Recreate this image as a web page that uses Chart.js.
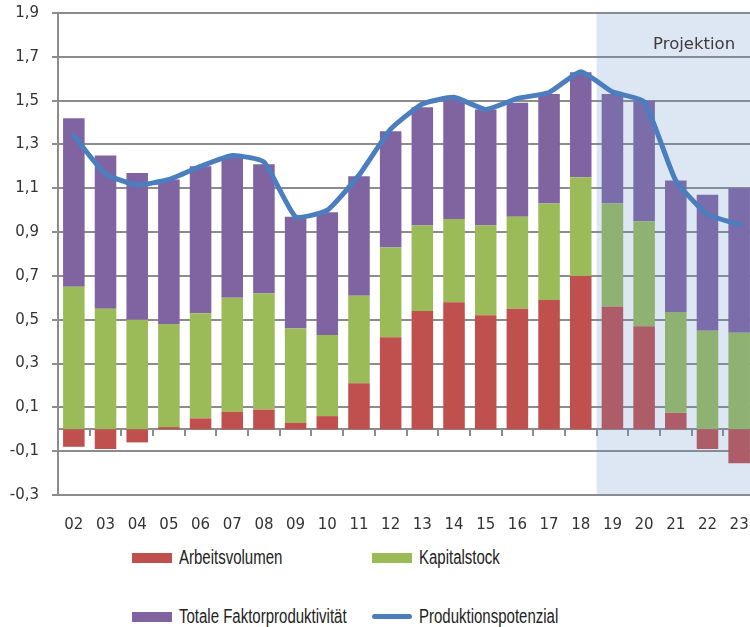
<!DOCTYPE html>
<html>
<head>
<meta charset="utf-8">
<script src="https://cdn.jsdelivr.net/npm/chart.js@4"></script>
<style>
  html, body { margin: 0; padding: 0; background: #fff; overflow: hidden; }
  #wrap { position: absolute; left: 0; top: -9px; width: 755px; height: 550px; }
  .legend { position: absolute; font-family: "Liberation Sans", Arial, sans-serif; font-size: 20px; color: #222; }
  .legend .sw { position: absolute; left: 0; width: 40px; }
  .legend span.t { position: absolute; left: 47px; top: -12px; white-space: nowrap;
                   display: inline-block; transform: scaleX(0.75); transform-origin: left center; }
</style>
</head>
<body>
<div id="wrap"><canvas id="chart"></canvas></div>
<div class="legend" style="left:132px; top:558px;"><div class="sw" style="height:10px; top:-5px; background:#c0504d"></div><span class="t">Arbeitsvolumen</span></div>
<div class="legend" style="left:372px; top:558px;"><div class="sw" style="height:10px; top:-5px; background:#9bbb59"></div><span class="t">Kapitalstock</span></div>
<div class="legend" style="left:132px; top:617px;"><div class="sw" style="height:10px; top:-5px; background:#8064a2"></div><span class="t">Totale Faktorproduktivität</span></div>
<div class="legend" style="left:372px; top:617px;"><div class="sw" style="height:5px; top:-3px; border-radius:3px; background:#4a7ebf"></div><span class="t">Produktionspotenzial</span></div>
<script>
// Jahre (20xx)
const years = ['02', '03', '04', '05', '06', '07', '08', '09', '10', '11', '12',
               '13', '14', '15', '16', '17', '18', '19', '20', '21', '22', '23'];
// Beiträge in Prozentpunkten
const arbeitsvolumen = [-0.08, -0.09, -0.06, 0.01, 0.05, 0.08, 0.09, 0.03, 0.06, 0.21, 0.42,
                        0.54, 0.58, 0.52, 0.55, 0.59, 0.70, 0.56, 0.47, 0.075, -0.09, -0.155];
const kapitalstock = [0.65, 0.55, 0.50, 0.47, 0.48, 0.52, 0.53, 0.43, 0.37, 0.40, 0.41,
                      0.39, 0.38, 0.41, 0.42, 0.44, 0.45, 0.47, 0.48, 0.46, 0.45, 0.44];
const tfp = [0.77, 0.70, 0.67, 0.66, 0.67, 0.64, 0.59, 0.51, 0.56, 0.545, 0.53,
             0.54, 0.55, 0.53, 0.52, 0.50, 0.48, 0.50, 0.55, 0.60, 0.62, 0.66];
const potenzial = [1.34, 1.165, 1.115, 1.14, 1.20, 1.25, 1.22, 0.97, 1.0, 1.16, 1.37,
                   1.485, 1.515, 1.46, 1.51, 1.537, 1.632, 1.54, 1.495, 1.135, 0.98, 0.935];
const yTicks = [-0.3, -0.1, 0.1, 0.3, 0.5, 0.7, 0.9, 1.1, 1.3, 1.5, 1.7, 1.9];
const projStart = '19';

const gridColor = '#8c8c8c';
const tickFont = { family: 'DejaVu Sans', size: 15 };

// hellblaue Fläche für die Projektion, über den Balken, unter der Linie
const projektionPlugin = {
    id: 'projektion',
    beforeDatasetDraw(chart, args) {
        if (args.index !== 3) return;
        const ctx = chart.ctx;
        const area = chart.chartArea;
        const x = chart.scales.x;
        const i = years.indexOf(projStart);
        const left = (x.getPixelForValue(i - 1) + x.getPixelForValue(i)) / 2;
        ctx.save();
        ctx.fillStyle = 'rgba(100, 140, 200, 0.22)';
        ctx.fillRect(left, area.top, area.right - left, area.bottom - area.top);
        ctx.fillStyle = '#3c3c3c';
        ctx.font = '16.5px "DejaVu Sans"';
        ctx.textAlign = 'right';
        ctx.textBaseline = 'middle';
        ctx.fillText('Projektion', x.getPixelForValue(years.length - 1) - 4, area.top + 32);
        ctx.restore();
    }
};

const ctx = document.getElementById('chart').getContext('2d');
new Chart(ctx, {
    data: {
        labels: years,
        datasets: [
            { type: 'bar', label: 'Arbeitsvolumen', data: arbeitsvolumen, backgroundColor: '#c0504d', order: 1 },
            { type: 'bar', label: 'Kapitalstock', data: kapitalstock, backgroundColor: '#9bbb59', order: 1 },
            { type: 'bar', label: 'Totale Faktorproduktivität', data: tfp, backgroundColor: '#8064a2', order: 1 },
            { type: 'line', label: 'Produktionspotenzial', data: potenzial, borderColor: '#4a7ebf',
              borderWidth: 5, pointRadius: 0, tension: 0.15, stack: 'line', order: 0,
              borderCapStyle: 'round', borderJoinStyle: 'round' }
        ]
    },
    options: {
        responsive: true,
        maintainAspectRatio: false,
        animation: false,
        layout: { padding: { left: 0, right: 0, top: 2, bottom: 4 } },
        datasets: { bar: { barPercentage: 0.68, categoryPercentage: 1 } },
        plugins: { legend: { display: false }, tooltip: { enabled: false } },
        scales: {
            x: {
                stacked: true,
                grid: { display: false, drawTicks: true, tickLength: 18 },
                border: { display: false },
                ticks: { font: tickFont, color: '#333', padding: 3, maxRotation: 0, autoSkip: false }
            },
            x2: {
                type: 'category',
                position: { y: 0 },
                offset: true,
                grid: { drawOnChartArea: false, offset: true, tickLength: 6, color: gridColor, lineWidth: 2 },
                border: { display: true, color: gridColor, width: 2 },
                ticks: { display: false }
            },
            y: {
                stacked: true,
                min: -0.3,
                max: 1.9,
                afterBuildTicks: (s) => { s.ticks = yTicks.map(v => ({ value: v })); },
                afterFit: (s) => { s.width = 58; },
                grid: { color: gridColor, lineWidth: 2, tickLength: 6 },
                border: { display: true, color: gridColor, width: 2 },
                ticks: {
                    font: tickFont, color: '#333', padding: 13,
                    callback: (v) => v.toFixed(1).replace('.', ',')
                }
            }
        }
    },
    plugins: [projektionPlugin]
});
</script>
</body>
</html>
